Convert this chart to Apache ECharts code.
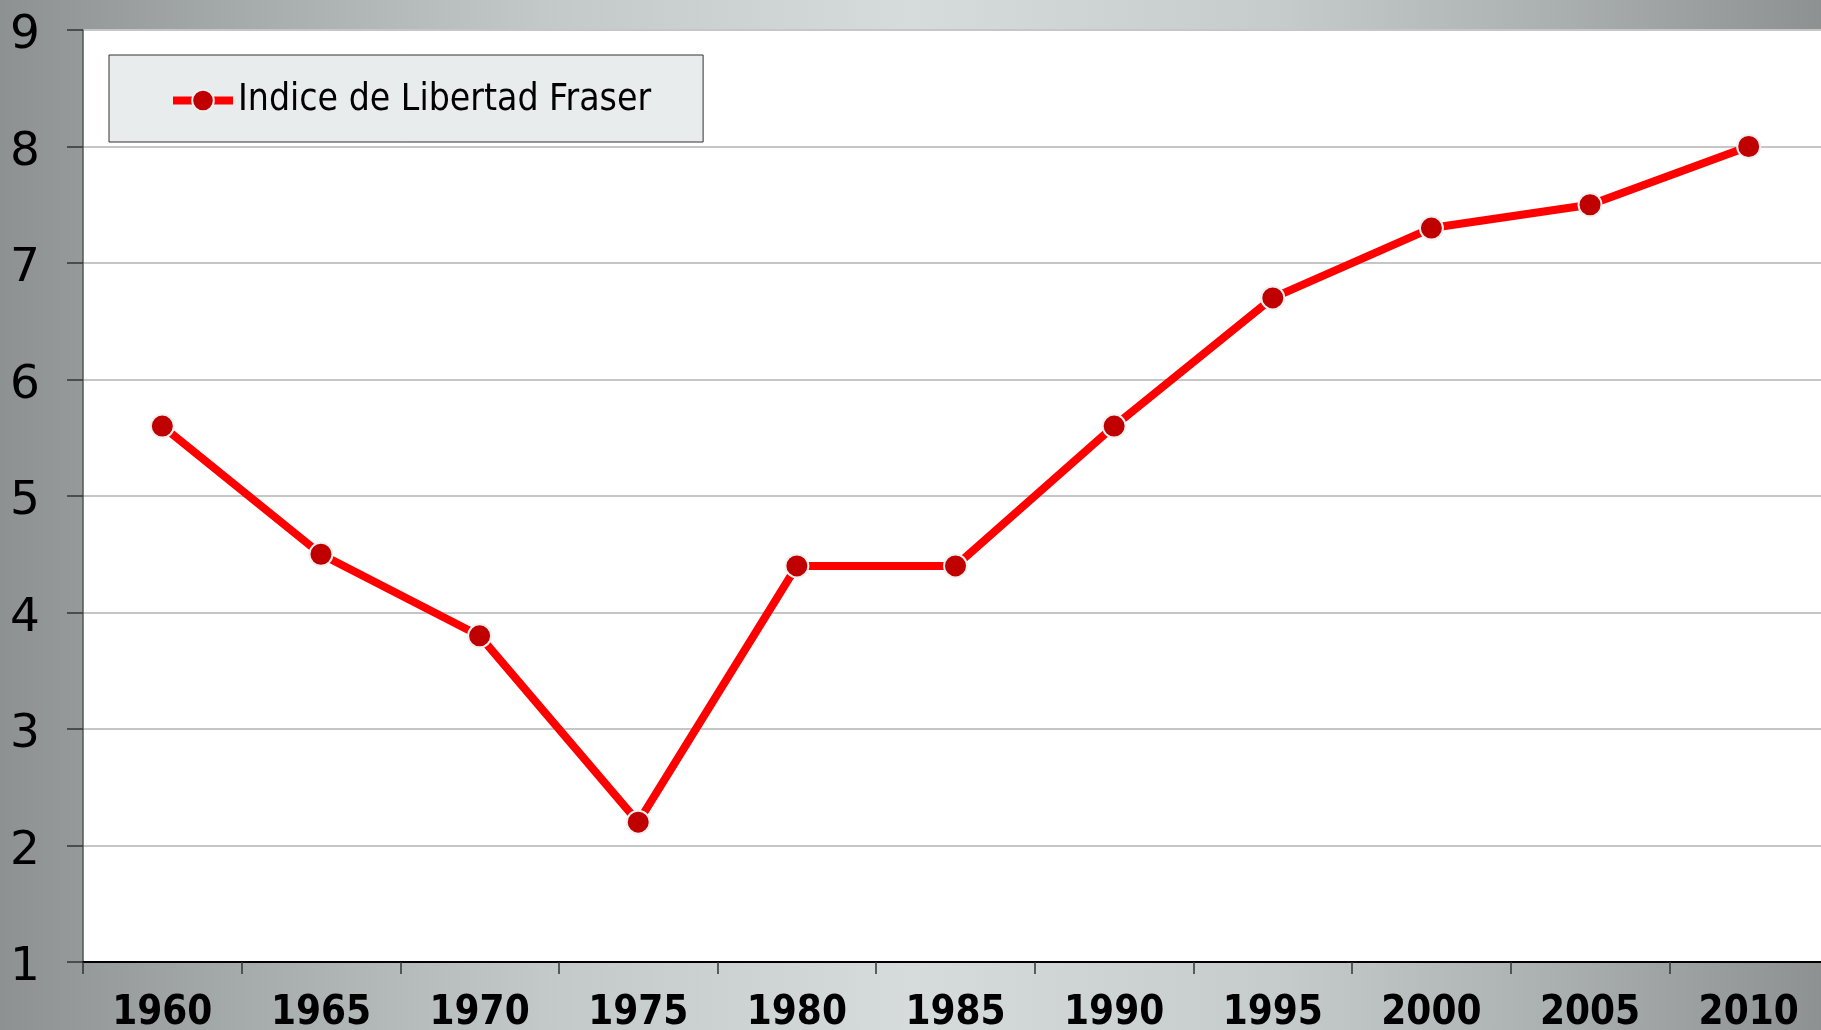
<!DOCTYPE html>
<html>
<head>
<meta charset="utf-8">
<script src="https://cdn.jsdelivr.net/npm/echarts@6/dist/echarts.min.js"></script>
<style>
  html, body { margin: 0; padding: 0; }
  #chart { width: 1821px; height: 1030px; }
</style>
</head>
<body>
<div id="chart"></div>
<script>
// datos
var years = ['1960', '1965', '1970', '1975', '1980', '1985', '1990', '1995', '2000', '2005', '2010'];
var fraserIndex = [5.6, 4.5, 3.8, 2.2, 4.4, 4.4, 5.6, 6.7, 7.3, 7.5, 8.0];
var seriesName = 'Indice de Libertad Fraser';

var chart = echarts.init(document.getElementById('chart'));

var option = {
    animation: false,
    backgroundColor: {
        type: 'linear', x: 0, y: 0, x2: 1, y2: 0,
        colorStops: [
            {offset: 0, color: '#8d9192'},
            {offset: 0.12, color: '#a3a8a9'},
            {offset: 0.3, color: '#c3c9c9'},
            {offset: 0.5, color: '#d6dcdc'},
            {offset: 0.7, color: '#c6cccc'},
            {offset: 0.85, color: '#abb0b1'},
            {offset: 1, color: '#8d9192'}
        ]
    },
    grid: {
        left: 83, top: 30, width: 1745, bottom: 68,
        containLabel: false, outerBoundsMode: 'none',
        show: true, backgroundColor: '#ffffff', borderWidth: 0
    },
    legend: {
        left: 109, top: 55,
        padding: [27, 52, 23, 60],
        backgroundColor: '#e9ecec', borderColor: '#333', borderWidth: 1, borderRadius: 0,
        itemWidth: 60, itemHeight: 27, itemGap: 0,
        lineStyle: {width: 8},
        formatter: '{t|{name}}',
        textStyle: {
            fontFamily: 'DejaVu Sans Condensed', fontSize: 37, color: '#000',
            rich: {t: {fontFamily: 'DejaVu Sans Condensed', fontSize: 37, color: '#000'}}
        },
        data: [seriesName]
    },
    xAxis: {
        type: 'category',
        data: years,
        boundaryGap: true,
        axisLine: {show: true, lineStyle: {color: '#000', width: 2}},
        axisTick: {show: true, length: 12, lineStyle: {color: '#333', width: 1.5}},
        axisLabel: {
            margin: 32, color: '#000',
            fontFamily: 'DejaVu Sans Condensed', fontWeight: 'bold', fontSize: 40
        },
        splitLine: {show: false}
    },
    yAxis: {
        type: 'value',
        min: 1, max: 9, interval: 1,
        axisLine: {show: true, lineStyle: {color: '#555', width: 1.5}},
        axisTick: {show: true, length: 16, lineStyle: {color: '#333', width: 1.5}},
        axisLabel: {
            margin: 43, color: '#000', align: 'right',
            formatter: '{v|{value}}',
            rich: {v: {fontFamily: 'DejaVu Sans', fontSize: 47, color: '#000', padding: [12, 0, 0, 0]}}
        },
        splitLine: {show: true, lineStyle: {color: '#c6c6c6', width: 2}}
    },
    series: [{
        name: seriesName,
        type: 'line',
        data: fraserIndex,
        symbol: 'circle',
        symbolSize: 23,
        lineStyle: {color: '#ff0000', width: 8},
        itemStyle: {color: '#c00000', borderColor: '#f0f0f0', borderWidth: 2}
    }]
};

chart.setOption(option);
</script>
</body>
</html>
